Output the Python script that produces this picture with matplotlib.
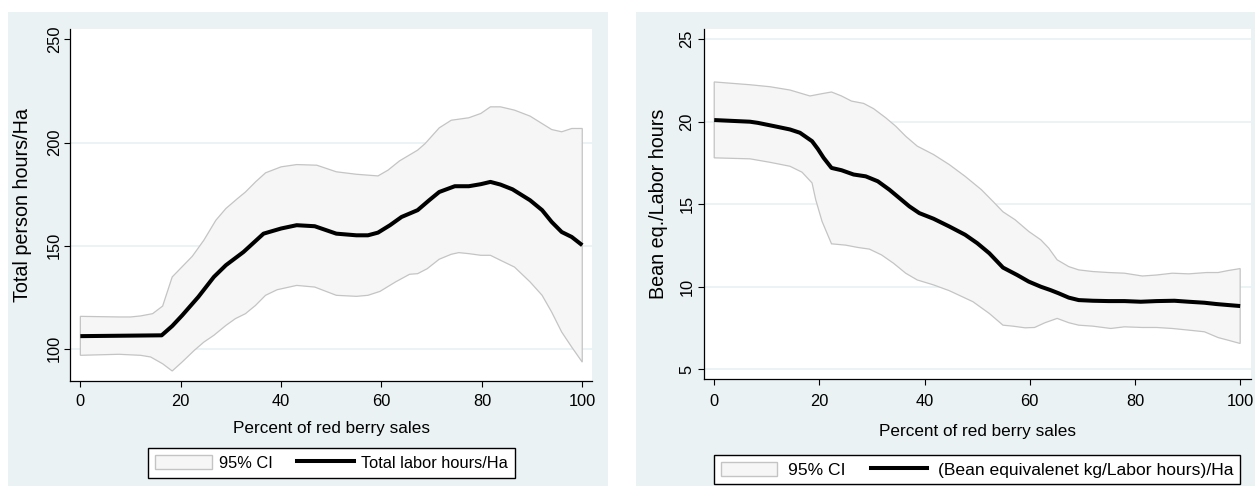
from matplotlib import pyplot as plt
from matplotlib.patches import Patch, Rectangle
from matplotlib.lines import Line2D

plt.rcParams['font.family'] = ['Liberation Sans', 'DejaVu Sans']

# left panel: total labor hours/Ha vs share of red berry sales
x_fit_l = [0, 16.2, 18.3, 20.3, 23.5, 26.6, 29.0, 32.5, 36.5, 40, 43.1, 46.7, 51, 55, 57.3, 59.3,
           61.7, 64, 67.2, 69.5, 71.5, 74.6, 77.4, 79.8, 81.7, 83.7, 86.1, 89.6, 92, 93.9, 95.9,
           97.9, 100]
fit_l = [106.1, 106.5, 111, 116.2, 125.1, 134.8, 140.5, 146.9, 155.8, 158.3, 159.9, 159.4, 155.8,
         155, 155, 156.3, 159.9, 163.9, 167.2, 172, 176, 178.8, 178.8, 179.8, 180.9, 179.6, 177.3,
         172, 167.2, 161.5, 156.6, 154.2, 150.2]

x_up_l = [0, 7.7, 10, 12, 14.4, 16.4, 18.3, 19.9, 22.3, 24.6, 27, 29, 31.3, 32.9, 34.9, 36.9, 40,
          43.1, 47.1, 51, 55, 59.3, 61.3, 63.6, 67.2, 68.7, 71.5, 73.9, 77.4, 79.8, 81.7, 83.7,
          86.5, 89.6, 93.9, 95.9, 97.9, 100]
up_l = [115.7, 115.4, 115.4, 115.9, 117, 120.7, 134.8, 138.8, 144.8, 152.6, 162.3, 168, 172.8,
        176, 180.9, 185.3, 188.2, 189.3, 189, 185.8, 184.6, 183.8, 186.6, 191.1, 196.3, 199.5,
        207.1, 210.8, 212, 214.1, 217.3, 217.3, 215.7, 212.8, 206.3, 205.2, 206.8, 206.8]

x_lo_l = [0, 7.7, 12, 14, 16.4, 18.3, 20.3, 22.7, 24.6, 26.6, 29, 30.9, 32.9, 34.9, 36.9, 39.2,
          43.1, 46.7, 51, 55, 57.3, 59.7, 62.8, 65.6, 67.2, 69.1, 71.5, 73.9, 75.4, 77.4, 79.8,
          81.7, 83.7, 86.5, 89.6, 92, 93.9, 95.9, 97.9, 100]
lo_l = [96.8, 97.3, 96.8, 96, 92.7, 89.2, 93.6, 99.2, 103.2, 106.5, 111.3, 114.6, 117, 121,
        125.9, 128.6, 130.7, 129.9, 125.9, 125.4, 125.9, 127.8, 132.4, 136.1, 136.4, 138.8,
        143.4, 145.8, 146.6, 146.1, 145.3, 145.3, 142.9, 139.6, 132.4, 125.9, 117.8, 108.1,
        100.8, 93.5]

# right panel: bean equivalent per labor hour
x_fit_r = [0, 6.8, 8.3, 11.4, 14.4, 16.3, 18.6, 19.7, 20.8, 22.3, 24.2, 26.5, 28.8, 31.1, 33.3,
           35.6, 37.1, 39, 41.7, 44.7, 47.7, 50, 52.3, 54.9, 57.6, 59.8, 62.1, 63.9, 65.5, 67.4,
           69.3, 72, 75, 78, 81.1, 84.1, 87.5, 90.2, 93.2, 95.5, 97.7, 100]
fit_r = [20.1, 20.0, 19.93, 19.73, 19.53, 19.33, 18.82, 18.35, 17.81, 17.2, 17.06, 16.8, 16.69,
         16.39, 15.88, 15.27, 14.87, 14.46, 14.12, 13.65, 13.15, 12.64, 12.03, 11.16, 10.71,
         10.31, 10.0, 9.8, 9.6, 9.34, 9.19, 9.15, 9.13, 9.13, 9.09, 9.13, 9.15, 9.09, 9.03,
         8.95, 8.89, 8.83]

x_up_r = [0, 6.8, 10.6, 14.4, 18.2, 20.5, 22.3, 24.2, 26.1, 28.4, 30.3, 32.6, 34.5, 36.4, 38.6,
          41.7, 44.7, 47.7, 50.8, 53, 54.9, 57.2, 59.8, 62.1, 63.6, 65.2, 67.4, 69.3, 72, 75, 78,
          81.4, 84.1, 87.1, 90.2, 93.6, 95.8, 97.7, 100]
up_r = [22.41, 22.24, 22.12, 21.92, 21.56, 21.7, 21.8, 21.56, 21.25, 21.11, 20.79, 20.24, 19.73,
        19.12, 18.52, 18.01, 17.4, 16.69, 15.88, 15.17, 14.54, 14.06, 13.35, 12.84, 12.34,
        11.63, 11.22, 11.02, 10.92, 10.86, 10.82, 10.65, 10.71, 10.82, 10.78, 10.86, 10.86,
        10.98, 11.1]

x_lo_r = [0, 6.8, 10.6, 14.4, 16.7, 18.6, 19.3, 20.5, 22.3, 25, 27.3, 29.5, 31.8, 34.1, 36.4,
          38.6, 41.7, 44.7, 49.2, 52.3, 54.9, 56.8, 59.1, 60.9, 62.9, 65.2, 67.4, 69.3, 72, 75.4,
          78, 81.4, 84.1, 87.1, 90.2, 93.2, 95.8, 97.7, 100]
lo_r = [17.81, 17.75, 17.54, 17.3, 16.94, 16.29, 15.27, 13.96, 12.6, 12.52, 12.38, 12.28, 11.93,
        11.42, 10.82, 10.41, 10.11, 9.76, 9.09, 8.38, 7.67, 7.61, 7.51, 7.53, 7.82, 8.08, 7.82,
        7.67, 7.61, 7.47, 7.57, 7.53, 7.53, 7.47, 7.37, 7.27, 6.92, 6.76, 6.56]

x_ticks = [0, 20, 40, 60, 80, 100]
y_ticks_l = [100, 150, 200, 250]
y_ticks_r = [5, 10, 15, 20, 25]

x_title = 'Percent of red berry sales'
y_title_l = 'Total person hours/Ha'
y_title_r = 'Bean eq./Labor hours'
ci_label = '95% CI'
fit_label_l = 'Total labor hours/Ha'
fit_label_r = '(Bean equivalenet kg/Labor hours)/Ha'

W, H = 1255, 486
bg = '#eaf2f3'
ci_fill = '#f6f6f6'
ci_edge = '#c4c4c4'

fig = plt.figure(figsize=(W / 100, H / 100), dpi=100)


def px_box(x0, y0, x1, y1):
    # pixel box (top-left origin) -> figure fraction [left, bottom, width, height]
    return [x0 / W, 1 - y1 / H, (x1 - x0) / W, (y1 - y0) / H]


# light panel backgrounds behind each graph
for x0, x1 in [(8, 608), (636, 1255)]:
    l, b, w, h = px_box(x0, 12, x1, 486)
    fig.patches.append(Rectangle((l, b), w, h, transform=fig.transFigure,
                                 facecolor=bg, edgecolor='none', zorder=-10))


def panel(box, xs_fit, fit, xs_up, up, xs_lo, lo, yticks, ylim, ytitle, fit_label,
          ylab_x, xlab_y, xpad, ypad, leg_top, hide_top_grid, leg_kw):
    ax = fig.add_axes(px_box(*box))
    ax.set_facecolor('white')

    # confidence band as one closed polygon
    band_x = list(xs_up) + list(reversed(xs_lo))
    band_y = list(up) + list(reversed(lo))
    ax.fill(band_x, band_y, facecolor=ci_fill, edgecolor=ci_edge, lw=0.9, zorder=2)
    ax.plot(xs_fit, fit, color='black', lw=2.9, zorder=3, solid_capstyle='butt')

    ax.set_xlim(-2, 102)
    ax.set_ylim(*ylim)
    ax.set_xticks(x_ticks)
    ax.set_yticks(yticks)

    ax.grid(axis='y', color=bg, lw=1.3, zorder=1)
    ax.set_axisbelow(True)
    if hide_top_grid:
        ax.get_ygridlines()[-1].set_visible(False)

    for s in ['top', 'right']:
        ax.spines[s].set_visible(False)
    for s in ['left', 'bottom']:
        ax.spines[s].set_linewidth(0.9)

    ax.tick_params(axis='both', length=4.3, width=0.8, labelsize=11.8, colors='black')
    ax.tick_params(axis='x', pad=xpad)
    ax.tick_params(axis='y', pad=ypad)
    for t in ax.get_yticklabels():
        t.set_rotation(90)
        t.set_va('center')

    ax.set_xlabel(x_title, fontsize=12.3, va='center')
    ax.xaxis.set_label_coords(0.5, xlab_y)
    ax.set_ylabel(ytitle, fontsize=14.2, va='center')
    ax.yaxis.set_label_coords(ylab_x, 0.5)

    handles = [Patch(facecolor=ci_fill, edgecolor=ci_edge, lw=1.0),
               Line2D([], [], color='black', lw=2.9)]
    cx = (box[0] + box[2]) / 2 / W
    leg = ax.legend(handles, [ci_label, fit_label], ncol=2, loc='upper center',
                    bbox_to_anchor=(cx, 1 - leg_top / H), bbox_transform=fig.transFigure,
                    frameon=True, fancybox=False, framealpha=1, edgecolor='black',
                    borderaxespad=0, **leg_kw)
    leg.get_frame().set_linewidth(1.0)
    return ax


panel((70.3, 29.3, 592.3, 381.3), x_fit_l, fit_l, x_up_l, up_l, x_lo_l, lo_l,
      y_ticks_l, (84.2, 254.9), y_title_l, fit_label_l,
      ylab_x=-0.0916, xlab_y=-0.1327, xpad=4.5, ypad=1.5, leg_top=448.3, hide_top_grid=True,
      leg_kw=dict(fontsize=11.8, handlelength=3.5, handleheight=0.92, handletextpad=0.4,
                  columnspacing=1.5, borderpad=0.42))

panel((703.7, 29.3, 1250.7, 379.3), x_fit_r, fit_r, x_up_r, up_r, x_lo_r, lo_r,
      y_ticks_r, (4.39, 25.6), y_title_r, fit_label_r,
      ylab_x=-0.0835, xlab_y=-0.1497, xpad=6, ypad=2.5, leg_top=455, hide_top_grid=False,
      leg_kw=dict(fontsize=12.6, handlelength=3.2, handleheight=0.88, handletextpad=0.6,
                  columnspacing=1.5, borderpad=0.38))

plt.savefig('out.png', dpi=100)
